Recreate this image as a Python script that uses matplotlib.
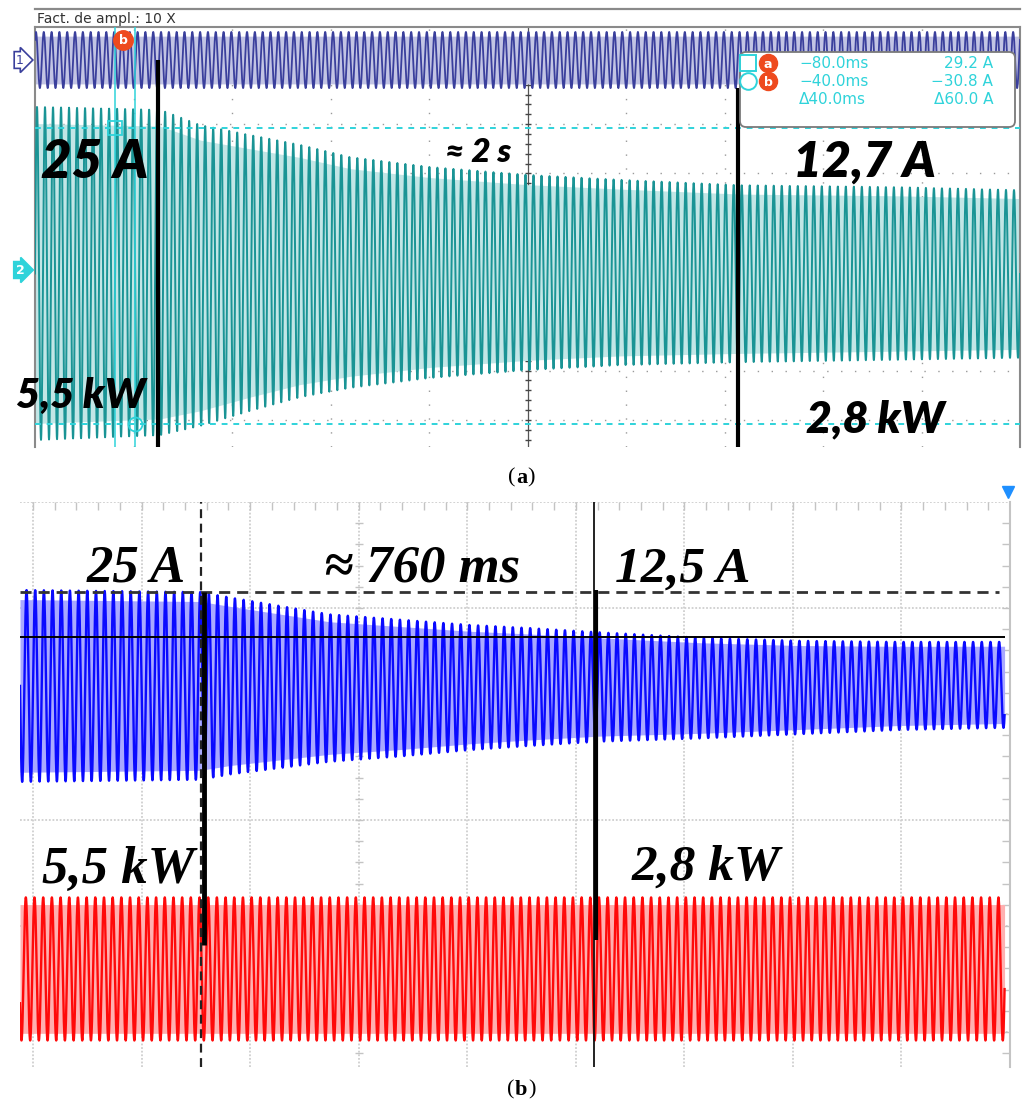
import numpy as np
import matplotlib.pyplot as plt
from matplotlib.patches import FancyBboxPatch

W, H = 1023, 1113

# ---- (a) scope capture: x in divisions, y in A (channel 2 scale)
a_env_x = [0, 1.27, 1.68, 2.18, 2.69, 3.2, 4.01, 5.0, 5.94, 7.16, 8.78, 10]
a_env_top = [33.5, 32.9, 29.8, 27.8, 25.8, 23.3, 21.3, 19.7, 18.7, 17.6, 17.2, 16.6]
a_env_bot = [-34.1, -33.1, -31.2, -28.2, -25.4, -23.5, -21.5, -19.9, -18.9, -18.3, -17.8, -17.4]
a_ch1_level = 43.0
a_ch1_amp = 5.7
a_cycles_per_div = 12.3
a_cursor_t = [0.81, 1.02]
a_cursor_i = [29.2, -30.8]
a_mark_x = [1.25, 7.14]
a_mark_top = [43.0, 37.3]
readout = [("−80.0ms", "29.2 A"), ("−40.0ms", "−30.8 A"), ("Δ40.0ms", "Δ60.0 A")]

# ---- (b) recorder capture: x in divisions, y in divisions
b_env_x = [-0.12, 1.54, 1.81, 2.27, 2.73, 3.38, 4.02, 4.58, 5.22, 6.14, 7.06, 7.98, 8.95]
b_cur_top = [2.17, 2.15, 2.10, 2.02, 1.94, 1.89, 1.84, 1.81, 1.77, 1.72, 1.69, 1.68, 1.68]
b_cur_bot = [0.36, 0.38, 0.43, 0.49, 0.55, 0.60, 0.66, 0.70, 0.74, 0.77, 0.81, 0.85, 0.87]
b_pow_top = -0.73
b_pow_bot = -2.08
b_cycles_per_div = 12.5
b_mark_x = [1.55, 5.17]
b_level_start = 2.15
b_level_end = 1.73

CYAN = '#2fd3da'


def rect(x0, y0, x1, y1):
    return [x0 / W, 1 - y1 / H, (x1 - x0) / W, (y1 - y0) / H]


def wave(t, top, bot, cyc, phase=0.0):
    mid = (np.asarray(top) + np.asarray(bot)) / 2
    half = (np.asarray(top) - np.asarray(bot)) / 2
    return mid, half, mid + half * np.sin(2 * np.pi * cyc * t + phase)


fig = plt.figure(figsize=(W / 100, H / 100), dpi=100)
fig.patch.set_facecolor('white')

# ================= panel (a) =================
ax = fig.add_axes(rect(35, 27, 1020, 447))
ax.set_xlim(0, 10)
ax.set_ylim(-35.5, 49.7)
ax.set_xticks([])
ax.set_yticks([])
for s in ['left', 'top', 'right']:
    ax.spines[s].set_color('#8a8a8a')
    ax.spines[s].set_linewidth(1.5)
ax.spines['bottom'].set_visible(False)

for k in range(1, 10):
    if k != 5:
        ax.axvline(k, color='#9a9a9a', lw=1.0, ls=(0, (1, 9)), zorder=1)
for yv in [-30, -20, -10, 10, 20, 30]:
    ax.axhline(yv, color='#9a9a9a', lw=1.0, ls=(0, (1, 9)), zorder=1)
ax.axvline(5, color='#555555', lw=0.9, zorder=1)
ax.axhline(0, color='#555555', lw=0.9, zorder=1)
ticks = np.arange(0, 10.01, 0.2)
ax.plot(ticks, np.zeros_like(ticks), ls='none', marker='|', ms=5, color='#444', zorder=1)
yt = np.arange(-34, 48, 2)
ax.plot(np.full_like(yt, 5.0, dtype=float), yt, ls='none', marker='_', ms=5, color='#444', zorder=1)

t = np.linspace(0, 10, 9000)
top = np.interp(t, a_env_x, a_env_top)
bot = np.interp(t, a_env_x, a_env_bot)
mid, half, y2 = wave(t, top, bot, a_cycles_per_div)
ax.fill_between(t, mid - 0.9 * half, mid + 0.9 * half, color='#c2e6e6', lw=0, zorder=2)
ax.plot(t, y2, color='#1a9495', lw=1.4, zorder=3)

y1 = a_ch1_level + a_ch1_amp * np.sin(2 * np.pi * 12.6 * t + 0.8)
ax.fill_between(t, a_ch1_level - 0.85 * a_ch1_amp, a_ch1_level + 0.85 * a_ch1_amp,
                color='#c2c4e4', lw=0, zorder=2)
ax.plot(t, y1, color='#3a3f9c', lw=1.3, zorder=3)

ax.vlines(a_cursor_t, -35.5, 49.7, color=CYAN, lw=1.1, zorder=4)
ax.hlines(a_cursor_i, 0, 10, color=CYAN, lw=1.4, linestyles=[(0, (3, 3))], zorder=4)
ax.plot(a_cursor_t[0], a_cursor_i[0], marker='s', ms=10, mfc='none', mec=CYAN, mew=1.3, zorder=5)
ax.plot(a_cursor_t[1], a_cursor_i[1], marker='o', ms=10, mfc='none', mec=CYAN, mew=1.3, zorder=5)
ax.vlines(a_mark_x, -35.5, a_mark_top, color='black', lw=3.0, zorder=6)

# ================= panel (b) =================
bx = fig.add_axes(rect(20, 502, 1010, 1067))
bx.set_xlim(-0.12, 9.0)
bx.set_ylim(-2.33, 3.0)
bx.set_xticks([])
bx.set_yticks([])
for s in ['left', 'top', 'bottom']:
    bx.spines[s].set_visible(False)
bx.spines['right'].set_color('#c4c4c4')
bx.spines['right'].set_linewidth(1.5)

for k in range(0, 9):
    bx.axvline(k, color='#cfcfcf', lw=1.3, ls=(0, (1, 1)), zorder=1)
for yv in [3, 2, 1, 0, -1, -2]:
    bx.axhline(yv, color='#cfcfcf', lw=1.3, ls=(0, (1, 1)), zorder=1)
tx = np.arange(0, 9.0, 0.2)
bx.plot(tx, np.full_like(tx, 2.96), ls='none', marker='|', ms=6, color='#c4c4c4', zorder=1)
ty = np.arange(-2.2, 3.0, 0.2)
bx.plot(np.full_like(ty, 8.97), ty, ls='none', marker='_', ms=7, color='#c4c4c4', zorder=1)
bx.plot(np.full_like(ty, 3.0), ty, ls='none', marker='_', ms=6, color='#c4c4c4', zorder=1)

tb = np.linspace(-0.12, 8.95, 9000)
ctop = np.interp(tb, b_env_x, b_cur_top)
cbot = np.interp(tb, b_env_x, b_cur_bot)
mid, half, yc = wave(tb, ctop, cbot, b_cycles_per_div)
bx.fill_between(tb, mid - 0.9 * half, mid + 0.9 * half, color='#a9a9ff', lw=0, zorder=2)
bx.plot(tb, yc, color='#0a0aff', lw=1.7, zorder=3)

mid, half, yp = wave(tb, np.full_like(tb, b_pow_top), np.full_like(tb, b_pow_bot),
                     b_cycles_per_div, 0.5)
bx.fill_between(tb, mid - 0.9 * half, mid + 0.9 * half, color='#ffb0b0', lw=0, zorder=2)
bx.plot(tb, yp, color='#ff0a0a', lw=1.7, zorder=3)

bx.axvline(b_mark_x[0], color='#222222', lw=1.6, ls=(0, (4, 2.5)), zorder=4)
bx.axvline(b_mark_x[1], color='#111111', lw=1.3, zorder=4)
bx.vlines([b_mark_x[0] + 0.025], -1.18, b_level_start, color='black', lw=3.5, zorder=5)
bx.vlines([b_mark_x[1] + 0.015], -1.13, b_level_start + 0.02, color='black', lw=3.0, zorder=5)
bx.hlines(b_level_start, -0.12, 8.9, color='#333333', lw=2.0, linestyles=[(0, (4, 2.5))], zorder=4)
bx.hlines(b_level_end, -0.12, 8.95, color='black', lw=1.4, zorder=4)
bx.plot(8.98, 3.09, marker='v', ms=8, color='#1e8fff', clip_on=False, zorder=6)

# ================= overlay (pixel coordinates) =================
ov = fig.add_axes([0, 0, 1, 1])
ov.set_xlim(0, W)
ov.set_ylim(H, 0)
ov.axis('off')
ov.patch.set_visible(False)

ov.plot([35, 1020], [9, 9], color='#8a8a8a', lw=1.6)
ov.text(37, 19, 'Fact. de ampl.: 10 X', fontsize=10, color='#333333', va='center', ha='left')
ov.text(20, 60, '1', fontsize=9, color='#3a3f9c', ha='center', va='center',
        bbox=dict(boxstyle='rarrow,pad=0.15', fc='white', ec='#3a3f9c', lw=1.2))
ov.text(20, 270, '2', fontsize=9, color='white', ha='center', va='center', fontweight='bold',
        bbox=dict(boxstyle='rarrow,pad=0.15', fc=CYAN, ec=CYAN, lw=1.2))
ov.plot(123, 40, marker='o', ms=14, color='#ee4a1e')
ov.text(123, 41, 'b', fontsize=9, color='white', ha='center', va='center', fontweight='bold')

box = FancyBboxPatch((740, 52), 275, 75, boxstyle='round,pad=0,rounding_size=6',
                     fc='white', ec='#7a7a7a', lw=1.3, zorder=7)
ov.add_patch(box)
row_y = [63, 81, 99]
ov.plot(748, row_y[0], marker='s', ms=11, mfc='none', mec=CYAN, mew=1.4, zorder=8)
ov.plot(748, row_y[1], marker='o', ms=12, mfc='none', mec=CYAN, mew=1.4, zorder=8)
for yy, lab in zip(row_y[:2], ['a', 'b']):
    ov.plot(768, yy, marker='o', ms=13, color='#ee4a1e', zorder=8)
    ov.text(768, yy + 1, lab, fontsize=9, color='white', ha='center', va='center',
            fontweight='bold', zorder=9)
for yy, (tv, iv) in zip(row_y, readout):
    ov.text(799, yy, tv, fontsize=11, color=CYAN, ha='left', va='center', zorder=9)
    ov.text(993, yy, iv, fontsize=11, color=CYAN, ha='right', va='center', zorder=9)

sans = dict(family=['Lato', 'DejaVu Sans'], fontweight='heavy', fontstyle='italic',
            color='black', va='baseline')
ov.text(95, 178, '25 A', fontsize=38, ha='center', **sans)
ov.text(478, 162, '≈ 2 s', fontsize=24, ha='center', **sans)
ov.text(864, 177, '12,7 A', fontsize=36, ha='center', **sans)
ov.text(81, 408, '5,5 kW', fontsize=30, ha='center', **sans)
ov.text(875, 432, '2,8 kW', fontsize=32, ha='center', **sans)

serif = dict(family=['Liberation Serif', 'DejaVu Serif'], fontweight='bold',
             fontstyle='italic', color='black', va='baseline')
ov.text(136, 582, '25 A', fontsize=38, ha='center', **serif)
ov.text(422, 582, '≈ 760 ms', fontsize=38, ha='center', **serif)
ov.text(683, 582, '12,5 A', fontsize=37, ha='center', **serif)
ov.text(118, 883, '5,5 kW', fontsize=38, ha='center', **serif)
ov.text(706, 880, '2,8 kW', fontsize=37, ha='center', **serif)

cap = dict(family=['Liberation Serif', 'DejaVu Serif'], fontsize=16, color='black',
           va='center')
ov.text(515, 478, '(', ha='right', **cap)
ov.text(516, 478, 'a', ha='left', fontweight='bold', **cap)
ov.text(527, 478, ')', ha='left', **cap)
ov.text(514, 1090, '(', ha='right', **cap)
ov.text(515, 1090, 'b', ha='left', fontweight='bold', **cap)
ov.text(528, 1090, ')', ha='left', **cap)

fig.savefig('out.png', dpi=100, facecolor='white')
